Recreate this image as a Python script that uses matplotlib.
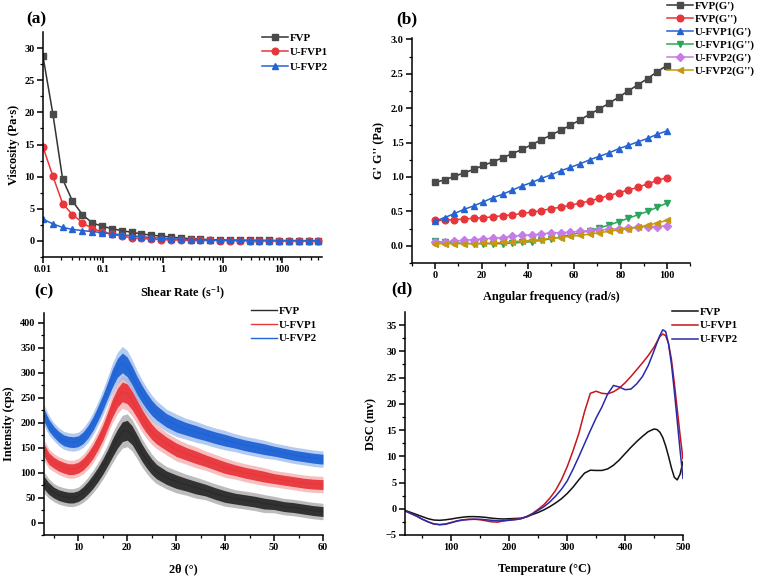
import matplotlib.pyplot as plt
import numpy as np

plt.rcParams['font.family'] = ['Liberation Serif', 'DejaVu Serif']
plt.rcParams['font.weight'] = 'bold'
plt.rcParams['axes.labelweight'] = 'bold'
plt.rcParams['mathtext.fontset'] = 'custom'
plt.rcParams['mathtext.rm'] = 'Liberation Serif:bold'
plt.rcParams['mathtext.it'] = 'Liberation Serif:bold'
plt.rcParams['mathtext.bf'] = 'Liberation Serif:bold'

# (a) viscosity vs shear rate
shear_rate = [0.01, 0.0146, 0.0213, 0.0311, 0.0455, 0.0664, 0.0969, 0.142, 0.207, 0.302,
              0.441, 0.643, 0.939, 1.37, 2.00, 2.92, 4.27, 6.23, 9.10, 13.3,
              19.4, 28.3, 41.4, 60.4, 88.2, 129, 188, 275, 401]
visc_fvp = [28.7, 19.8, 9.6, 6.2, 4.1, 2.8, 2.3, 1.9, 1.6, 1.35,
            1.1, 0.9, 0.75, 0.6, 0.45, 0.35, 0.27, 0.2, 0.16, 0.13,
            0.11, 0.09, 0.08, 0.07, 0.06, 0.05, 0.05, 0.04, 0.04]
visc_u1 = [14.6, 10.1, 5.8, 4.1, 2.85, 1.9, 1.45, 1.05, 0.75, 0.5,
           0.38, 0.28, 0.2, 0.15, 0.12, 0.1, 0.08, 0.07, 0.06, 0.05,
           0.05, 0.04, 0.04, 0.03, 0.03, 0.03, 0.03, 0.02, 0.02]
visc_u2 = [3.4, 2.65, 2.1, 1.8, 1.6, 1.45, 1.3, 1.1, 0.95, 0.8,
           0.65, 0.52, 0.42, 0.33, 0.26, 0.2, 0.16, 0.13, 0.1, 0.08,
           0.07, 0.06, 0.05, 0.05, 0.04, 0.04, 0.03, 0.03, 0.03]

# (b) G' / G'' vs angular frequency
freq = [0, 4.17, 8.33, 12.5, 16.67, 20.83, 25, 29.17, 33.33, 37.5, 41.67, 45.83, 50,
        54.17, 58.33, 62.5, 66.67, 70.83, 75, 79.17, 83.33, 87.5, 91.67, 95.83, 100]
fvp_g1 = [0.92, 0.96, 1.01, 1.06, 1.11, 1.17, 1.22, 1.28, 1.34, 1.40, 1.47, 1.54, 1.61,
          1.68, 1.75, 1.83, 1.91, 1.99, 2.07, 2.16, 2.25, 2.34, 2.43, 2.53, 2.62]
fvp_g2 = [0.37, 0.37, 0.38, 0.39, 0.40, 0.41, 0.42, 0.44, 0.45, 0.47, 0.49, 0.51, 0.54,
          0.56, 0.59, 0.62, 0.65, 0.69, 0.73, 0.77, 0.81, 0.85, 0.90, 0.95, 0.99]
u1_g1 = [0.36, 0.41, 0.47, 0.53, 0.58, 0.64, 0.70, 0.75, 0.81, 0.87, 0.92, 0.98, 1.03,
         1.09, 1.14, 1.19, 1.25, 1.30, 1.35, 1.41, 1.46, 1.51, 1.56, 1.62, 1.67]
u1_g2 = [0.07, 0.05, 0.04, 0.04, 0.03, 0.03, 0.03, 0.03, 0.04, 0.05, 0.06, 0.08, 0.10,
         0.13, 0.16, 0.19, 0.22, 0.26, 0.30, 0.35, 0.40, 0.45, 0.50, 0.56, 0.62]
u2_g1 = [0.05, 0.06, 0.07, 0.08, 0.09, 0.10, 0.11, 0.12, 0.14, 0.15, 0.16, 0.17, 0.19,
         0.19, 0.20, 0.21, 0.22, 0.23, 0.24, 0.25, 0.26, 0.27, 0.28, 0.28, 0.29]
u2_g2 = [0.03, 0.03, 0.03, 0.03, 0.03, 0.04, 0.04, 0.05, 0.06, 0.07, 0.08, 0.09, 0.11,
         0.12, 0.14, 0.15, 0.17, 0.19, 0.21, 0.23, 0.25, 0.27, 0.30, 0.33, 0.37]

# (c) XRD: band centre and noise half-width
two_theta = [3, 4, 5, 6, 7, 8, 9, 10, 11, 12, 13, 14, 15, 16, 17, 18, 19, 20, 21, 22,
             23, 24, 25, 26, 28, 30, 32, 34, 36, 38, 40, 42, 44, 46, 48, 50, 52, 54, 56, 58, 60]
xrd_fvp = [80, 68, 60, 55, 52, 50, 50, 53, 60, 70, 82, 96, 112, 130, 150, 168, 182, 185, 175, 158,
           140, 125, 112, 102, 90, 82, 76, 70, 65, 58, 52, 48, 45, 42, 38, 36, 32, 30, 27, 24, 22]
xrd_u1 = [145, 128, 120, 114, 110, 107, 107, 110, 117, 128, 142, 160, 180, 205, 230, 250, 262, 258, 245, 228,
          210, 195, 182, 172, 158, 146, 138, 131, 124, 117, 110, 105, 100, 96, 92, 88, 85, 82, 79, 77, 76]
xrd_u2 = [215, 195, 182, 172, 165, 162, 161, 163, 170, 182, 198, 218, 240, 265, 290, 310, 320, 312, 295, 275,
          258, 243, 230, 220, 205, 195, 188, 182, 176, 170, 165, 160, 155, 151, 147, 143, 139, 135, 132, 129, 127]
xrd_noise = [14, 13, 12, 12, 12, 12, 12, 12, 13, 14, 15, 16, 17, 18, 20, 21, 22, 22, 21, 20,
             19, 18, 17, 16, 15, 15, 14, 14, 13, 13, 13, 12, 12, 12, 12, 11, 11, 11, 11, 11, 11]

# (d) DSC
temp = [20, 30, 40, 50, 60, 70, 80, 90, 100, 110, 120, 130, 140, 150, 160, 170, 180, 190, 200, 210,
        220, 230, 240, 250, 260, 270, 280, 290, 300, 310, 320, 330, 340, 350, 360, 370, 380, 390, 400,
        410, 420, 430, 440, 450, 455, 460, 465, 470, 475, 480, 485, 490, 495, 500]
dsc_fvp = [-0.3, -0.7, -1.1, -1.5, -1.9, -2.15, -2.2, -2.1, -1.95, -1.75, -1.6, -1.5, -1.5, -1.55, -1.65,
           -1.8, -1.9, -1.95, -1.9, -1.85, -1.8, -1.55, -1.1, -0.7, -0.2, 0.4, 1.1, 1.9, 2.9, 4.1,
           5.5, 6.8, 7.35, 7.3, 7.3, 7.6, 8.3, 9.3, 10.5, 11.7, 12.8, 13.8, 14.7, 15.2, 15.1,
           14.6, 13.6, 12.0, 10.0, 7.8, 6.0, 5.5, 6.6, 9.0]
dsc_u1 = [-0.4, -0.9, -1.4, -2.0, -2.5, -2.9, -3.0, -2.9, -2.6, -2.3, -2.1, -2.0, -2.0, -2.1, -2.3,
          -2.5, -2.55, -2.3, -2.1, -2.0, -1.9, -1.5, -0.9, -0.1, 0.8, 2.0, 3.5, 5.5, 8.0, 11.0,
          14.3, 18.5, 22.0, 22.4, 22.0, 21.9, 22.3, 23.0, 24.0, 25.2, 26.5, 27.8, 29.2, 30.8, 31.8,
          32.8, 33.3, 33.0, 31.5, 28.5, 24.0, 19.0, 14.0, 9.5]
dsc_u2 = [-0.4, -0.9, -1.4, -2.0, -2.5, -2.9, -3.05, -2.95, -2.65, -2.35, -2.15, -2.05, -2.0, -2.0, -2.1,
          -2.2, -2.3, -2.3, -2.2, -2.1, -1.9, -1.5, -1.0, -0.3, 0.4, 1.3, 2.4, 3.7, 5.3, 7.5,
          9.9, 12.4, 14.9, 17.3, 19.4, 21.9, 23.5, 23.2, 22.7, 22.8, 23.8, 25.2, 27.3, 30.1, 31.6,
          33.0, 34.1, 33.8, 31.4, 27.6, 22.5, 16.8, 11.1, 5.8]

W, H = 768, 583
fig = plt.figure(figsize=(W / 100, H / 100), dpi=100)


def px_axes(left, top, right, bottom):
    return fig.add_axes([left / W, 1 - bottom / H, (right - left) / W, (bottom - top) / H])


def style(ax):
    for s in ['top', 'right']:
        ax.spines[s].set_visible(False)
    for s in ['left', 'bottom']:
        ax.spines[s].set_linewidth(1.1)
    ax.tick_params(which='major', direction='out', length=4, width=1.1, labelsize=7.4, pad=2)
    ax.tick_params(which='minor', direction='out', length=2, width=0.9)


def legend(ax, x, y, spacing):
    ax.legend(loc='upper left', bbox_to_anchor=(x / W, 1 - y / H), bbox_transform=fig.transFigure,
              frameon=False, fontsize=7.8, handlelength=2.4, handletextpad=0.2,
              labelspacing=spacing, borderaxespad=0, borderpad=0)


label_kw = dict(fontsize=8.8, fontweight='bold')
panel_kw = dict(fontsize=12.5, fontweight='bold', va='center', ha='left')

# ---- (a)
ax = px_axes(43, 32, 322, 257)
ax.plot(shear_rate, visc_fvp, '-s', color='#333333', mfc='#4a4a4a', mec='#4a4a4a', ms=4.5, lw=1.1, label='FVP')
ax.plot(shear_rate, visc_u1, '-o', color='#e8363b', ms=4.8, lw=1.1, label='U-FVP1')
ax.plot(shear_rate, visc_u2, '-^', color='#2463d1', ms=5, lw=1.1, label='U-FVP2')
ax.set_xscale('log')
ax.set_xlim(0.01, 460)
ax.set_ylim(-2.5, 32.5)
ax.set_yticks([0, 5, 10, 15, 20, 25, 30])
ax.set_yticks(np.arange(-2.5, 32.5, 2.5), minor=True)
ax.set_xticks([0.01, 0.1, 1, 10, 100])
ax.set_xticklabels(['0.01', '0.1', '1', '10', '100'])
style(ax)
ax.set_xlabel('Shear Rate (s$^{-1}$)', labelpad=8, **label_kw)
ax.set_ylabel('Viscosity (Pa·s)', labelpad=3, **label_kw)
legend(ax, 262, 33, 0.45)

# ---- (b)
ax = px_axes(412, 38, 690, 263)
ax.plot(freq, fvp_g1, '-s', color='#333333', mfc='#4a4a4a', mec='#4a4a4a', ms=4.5, lw=1.1, label="FVP(G')")
ax.plot(freq, fvp_g2, '-o', color='#e8363b', ms=4.8, lw=1.1, label="FVP(G'')")
ax.plot(freq, u1_g1, '-^', color='#2463d1', ms=5, lw=1.1, label="U-FVP1(G')")
ax.plot(freq, u1_g2, '-v', color='#2aa55a', ms=5, lw=1.1, label="U-FVP1(G'')")
ax.plot(freq, u2_g1, '-D', color='#c67be6', ms=4, lw=1.1, label="U-FVP2(G')")
ax.plot(freq, u2_g2, '-<', color='#c9970f', ms=5, lw=1.1, label="U-FVP2(G'')")
ax.set_xlim(-10, 110)
ax.set_ylim(-0.25, 3.02)
ax.set_xticks([0, 20, 40, 60, 80, 100])
ax.set_xticks(np.arange(-10, 111, 10), minor=True)
ax.set_yticks(np.arange(0, 3.01, 0.5))
ax.set_yticks(np.arange(-0.25, 3.01, 0.25), minor=True)
ax.yaxis.set_major_formatter(plt.FormatStrFormatter('%.1f'))
style(ax)
ax.set_xlabel('Angular frequency (rad/s)', labelpad=8, **label_kw)
ax.set_ylabel("G' G'' (Pa)", labelpad=4, **label_kw)
legend(ax, 667, 1, 0.3)

# ---- (c)
ax = px_axes(44, 313, 323, 535)
xrd_sets = [(xrd_fvp, '#2b2b2b', '#a0a0a0', 'FVP'),
            (xrd_u1, '#e8363b', '#f3a6a6', 'U-FVP1'),
            (xrd_u2, '#1f63d6', '#94b6ec', 'U-FVP2')]
tt = np.array(two_theta)
nz = np.array(xrd_noise)
for vals, c, c_light, lab in xrd_sets:
    v = np.array(vals)
    ax.fill_between(tt, v - 1.5 * nz, v + 1.5 * nz, color=c_light, lw=0, alpha=0.7)
    ax.fill_between(tt, v - 0.9 * nz, v + 0.9 * nz, color=c, lw=0, alpha=0.95)
    ax.plot(tt, v, color=c, lw=1.0, label=lab)
ax.set_xlim(3, 60)
ax.set_ylim(-25, 420)
ax.set_xticks([10, 20, 30, 40, 50, 60])
ax.set_xticks(np.arange(5, 61, 5), minor=True)
ax.set_yticks(np.arange(0, 401, 50))
ax.set_yticks(np.arange(-25, 420, 25), minor=True)
style(ax)
ax.set_xlabel('2θ (°)', labelpad=8, **label_kw)
ax.set_ylabel('Intensity (cps)', labelpad=4, **label_kw)
legend(ax, 251, 306, 0.4)

# ---- (d)
ax = px_axes(405, 312, 683, 535)
ax.plot(temp, dsc_fvp, color='#111111', lw=1.1, label='FVP')
ax.plot(temp, dsc_u1, color='#c8141e', lw=1.1, label='U-FVP1')
ax.plot(temp, dsc_u2, color='#2a2aa8', lw=1.1, label='U-FVP2')
ax.set_xlim(20, 500)
ax.set_ylim(-5, 37.5)
ax.set_xticks([100, 200, 300, 400, 500])
ax.set_xticks(np.arange(50, 501, 50), minor=True)
ax.set_yticks(np.arange(-5, 36, 5))
ax.set_yticks(np.arange(-5, 37.5, 2.5), minor=True)
style(ax)
ax.set_xlabel('Temperature (°C)', labelpad=8, **label_kw)
ax.set_ylabel('DSC (mv)', labelpad=6, **label_kw)
legend(ax, 672, 307, 0.4)

fig.text(26 / W, 1 - 19 / H, '(a)', **panel_kw)
fig.text(396 / W, 1 - 19 / H, '(b)', **panel_kw)
fig.text(34 / W, 1 - 291 / H, '(c)', **panel_kw)
fig.text(391 / W, 1 - 289 / H, '(d)', **panel_kw)

fig.savefig('out.png', dpi=100)
